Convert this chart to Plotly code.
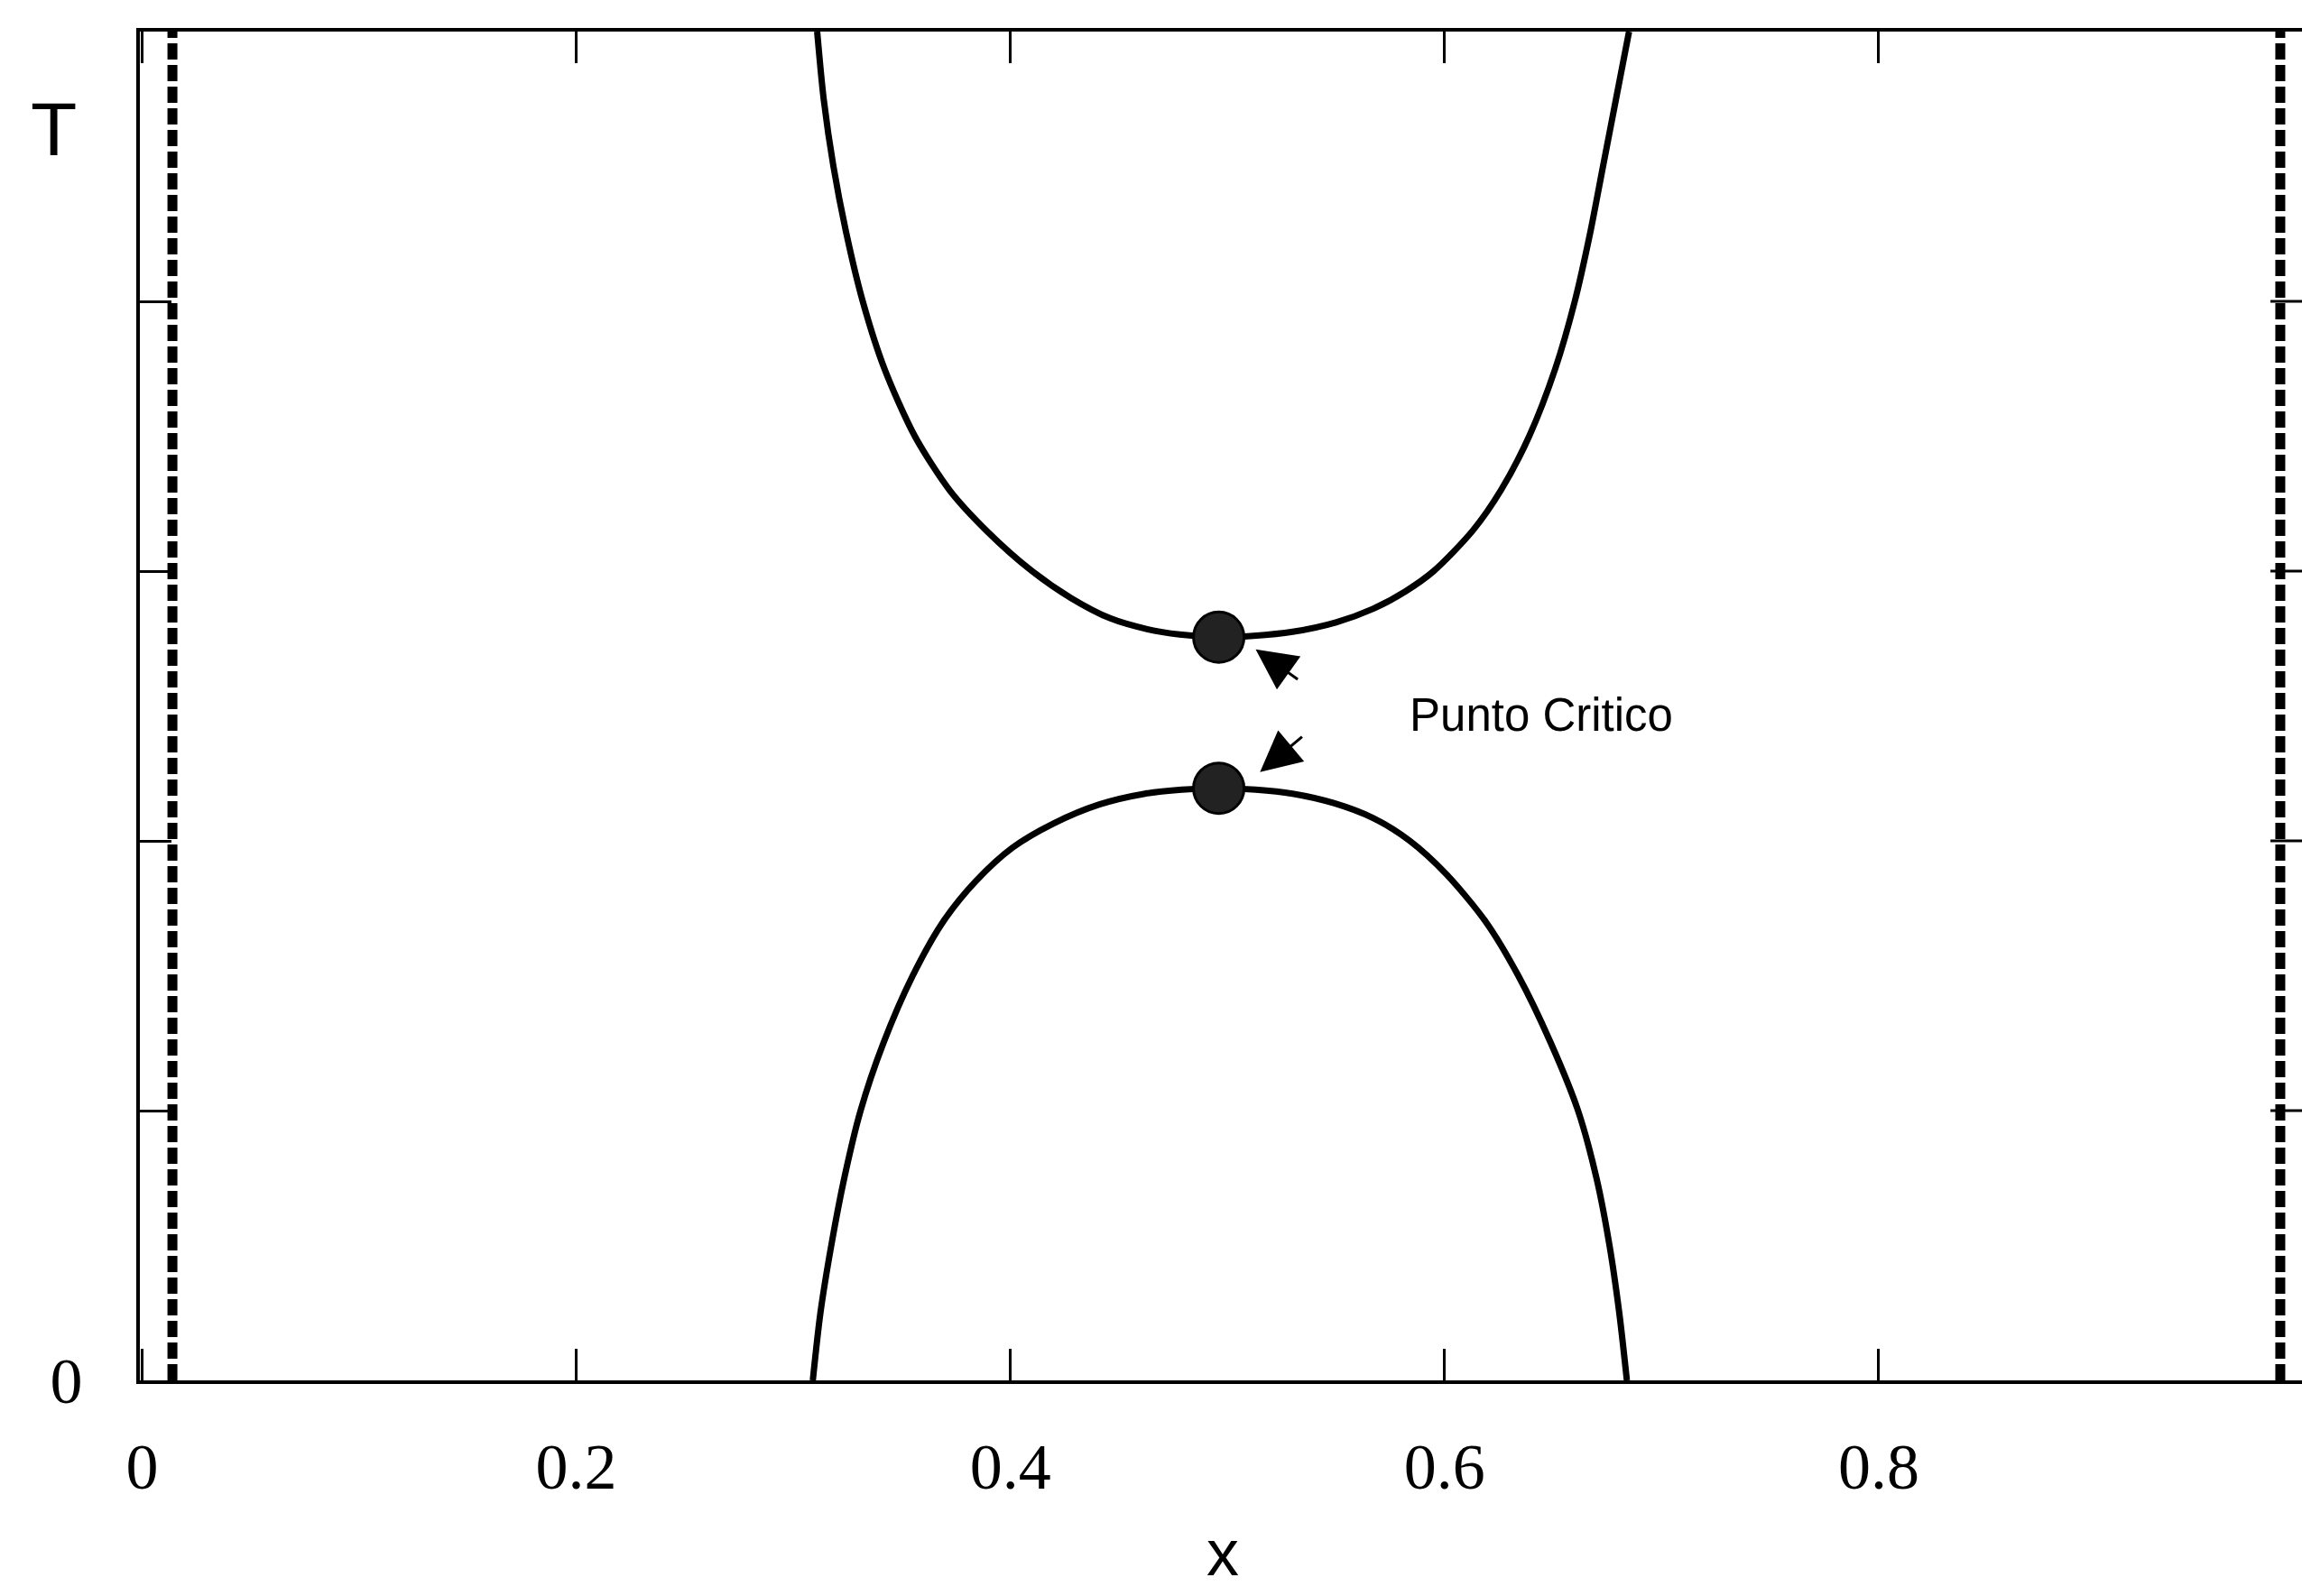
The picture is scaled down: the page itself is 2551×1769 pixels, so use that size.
import plotly.graph_objects as go

# Coexistence curves of the T-x phase diagram
upper_x = [0.311, 0.314, 0.3185, 0.3245, 0.332, 0.342, 0.356, 0.372, 0.389, 0.410,
           0.428, 0.446, 0.463, 0.478, 0.496,
           0.512, 0.530, 0.550, 0.567, 0.582, 0.595, 0.613, 0.626, 0.639, 0.651,
           0.660, 0.667, 0.673, 0.679, 0.685]
upper_y = [1.000, 0.950, 0.900, 0.850, 0.800, 0.750, 0.700, 0.660, 0.630, 0.600,
           0.580, 0.565, 0.557, 0.553, 0.551,
           0.552, 0.555, 0.562, 0.572, 0.585, 0.600, 0.630, 0.660, 0.700, 0.750,
           0.800, 0.850, 0.900, 0.950, 1.000]

lower_x = [0.309, 0.3125, 0.3175, 0.3235, 0.331, 0.3415, 0.355, 0.369, 0.384, 0.401,
           0.420, 0.441, 0.462, 0.479, 0.496,
           0.513, 0.530, 0.549, 0.567, 0.584, 0.601, 0.619, 0.634, 0.649, 0.6615,
           0.670, 0.676, 0.6805, 0.684]
lower_y = [0.000, 0.050, 0.100, 0.150, 0.200, 0.250, 0.300, 0.340, 0.370, 0.395,
           0.413, 0.427, 0.435, 0.438, 0.439,
           0.438, 0.435, 0.428, 0.417, 0.400, 0.375, 0.340, 0.300, 0.250, 0.200,
           0.150, 0.100, 0.050, 0.000]

# Critical points
crit_x = [0.496, 0.496]
crit_y = [0.551, 0.439]

# Vertical dashed boundaries
bound_x = [0.014, 0.985]

x_ticks = [0, 0.2, 0.4, 0.6, 0.8]
x_ticklabels = ["0", "0.2", "0.4", "0.6", "0.8"]
y_ticks = [0, 0.2, 0.4, 0.6, 0.8, 1.0]
y_ticklabels = ["0", "", "", "", "", ""]

label_text = "Punto Critico"

fig = go.Figure()

for bx in bound_x:
    fig.add_trace(go.Scatter(
        x=[bx, bx], y=[0, 1], mode="lines",
        line=dict(color="black", width=11, dash="18px,6px"),
        hoverinfo="skip"))

fig.add_trace(go.Scatter(x=upper_x, y=upper_y, mode="lines",
                         line=dict(color="black", width=7, shape="spline",
                                   smoothing=0.8)))
fig.add_trace(go.Scatter(x=lower_x, y=lower_y, mode="lines",
                         line=dict(color="black", width=7, shape="spline",
                                   smoothing=0.8)))

fig.add_trace(go.Scatter(
    x=crit_x, y=crit_y, mode="markers",
    marker=dict(symbol="circle", size=56, color="#222222",
                line=dict(color="black", width=3))))

# Arrows pointing at the two critical points
fig.add_annotation(x=0.513, y=0.542, ax=0.533, ay=0.519, xref="x", yref="y",
                   axref="x", ayref="y", text="", showarrow=True,
                   arrowhead=2, arrowsize=3, arrowwidth=3, arrowcolor="black")
fig.add_annotation(x=0.515, y=0.451, ax=0.535, ay=0.478, xref="x", yref="y",
                   axref="x", ayref="y", text="", showarrow=True,
                   arrowhead=2, arrowsize=3, arrowwidth=3, arrowcolor="black")

fig.add_annotation(x=0.583, y=0.493, xref="x", yref="y", text=label_text,
                   showarrow=False, xanchor="left", yanchor="middle",
                   font=dict(family="Liberation Sans", size=51, color="black"))

# Axis titles
fig.add_annotation(x=-0.040, y=0.928, xref="paper", yref="paper", text="T",
                   showarrow=False, xanchor="center", yanchor="middle",
                   font=dict(family="Liberation Sans", size=84, color="black"))
fig.add_annotation(x=0.501, y=-0.128, xref="paper", yref="paper", text="x",
                   showarrow=False, xanchor="center", yanchor="middle",
                   font=dict(family="Liberation Sans", size=72, color="black"))

# Inward ticks along the right edge
for yt in y_ticks[1:-1]:
    fig.add_shape(type="line", xref="paper", yref="y",
                  x0=1 - 35 / 2396, x1=1, y0=yt, y1=yt,
                  line=dict(color="black", width=3))

fig.update_layout(
    width=2551, height=1769,
    margin=dict(l=155, r=0, t=35, b=239),
    plot_bgcolor="white", paper_bgcolor="white",
    showlegend=False,
    xaxis=dict(range=[-0.001, 0.995], tickvals=x_ticks, ticktext=x_ticklabels,
               ticks="inside", ticklen=35, tickwidth=3, tickcolor="black",
               showline=True, linewidth=4, linecolor="black", mirror="ticks",
               showgrid=False, zeroline=False, ticklabelstandoff=30,
               tickfont=dict(family="Liberation Serif", size=72, color="black")),
    yaxis=dict(range=[0, 1], tickvals=y_ticks, ticktext=y_ticklabels,
               ticks="inside", ticklen=35, tickwidth=3, tickcolor="black",
               showline=True, linewidth=4, linecolor="black", mirror=False,
               showgrid=False, zeroline=False, ticklabelstandoff=45,
               tickfont=dict(family="Liberation Serif", size=72, color="black")),
)

fig.write_html("out.html")
